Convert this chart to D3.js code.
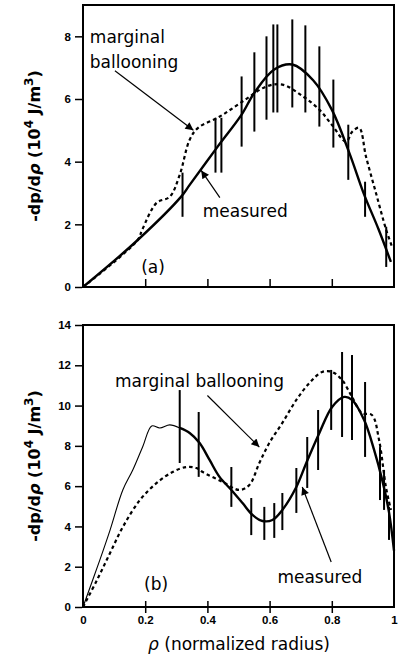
<!DOCTYPE html>
<html>
<head>
<meta charset="utf-8">
<script src="https://cdn.jsdelivr.net/npm/d3@7"></script>
<style>
  html, body { margin: 0; padding: 0; background: #fff; }
  svg { display: block; }
  .tick text { font-family: "Liberation Sans", Arial, sans-serif; font-weight: bold; font-size: 11.5px; fill: #000; }
  .tick line { stroke: #000; stroke-width: 1.5px; }
  .ann { font-family: "DejaVu Sans", sans-serif; font-size: 17px; fill: #000; }
  .ytitle { font-family: "DejaVu Sans", sans-serif; font-size: 16px; fill: #000; font-weight: bold; }
  .xtitle { font-family: "DejaVu Sans", sans-serif; font-size: 17px; fill: #000; }
</style>
</head>
<body>
<svg id="chart" width="398" height="658"></svg>
<script>
// ---- panel (a): pressure gradient profiles ----
const rhoMeasuredA = [0, 0.176, 0.317, 0.343, 0.433, 0.51, 0.551, 0.615, 0.673, 0.74, 0.80, 0.856, 0.904, 0.95, 0.99];
const valMeasuredA = [0, 1.5, 2.9, 3.26, 4.48, 5.5, 6.2, 6.94, 7.1, 6.6, 5.66, 4.29, 2.95, 1.85, 0.8];

const rhoBallooningA = [0, 0.176, 0.19, 0.237, 0.279, 0.311, 0.343, 0.37, 0.44, 0.51, 0.59, 0.641, 0.705, 0.76, 0.80, 0.846, 0.866, 0.888, 0.91, 0.942, 0.975, 0.994];
const valBallooningA = [0, 1.5, 1.82, 2.69, 2.88, 3.58, 4.7, 5.08, 5.44, 5.9, 6.4, 6.46, 6.1, 5.66, 5.18, 4.64, 4.96, 5.08, 4.16, 3.0, 1.82, 1.28];

// error bars: radius, lower, upper
const errRhoA  = [0.32, 0.426, 0.445, 0.51, 0.551, 0.59, 0.612, 0.625, 0.673, 0.715, 0.76, 0.805, 0.853, 0.907, 0.975];
const errLowA  = [2.24, 3.65, 3.65, 4.48, 4.96, 5.34, 5.57, 5.57, 5.73, 5.57, 5.12, 4.45, 3.42, 2.24, 0.64];
const errHighA = [3.65, 5.4, 5.4, 6.72, 7.49, 8.0, 8.38, 8.38, 8.54, 8.35, 7.68, 6.62, 5.18, 3.36, 1.92];

// ---- panel (b) ----
const rhoMeasuredB = [0, 0.054, 0.087, 0.128, 0.16, 0.192, 0.221, 0.247, 0.279, 0.311, 0.343, 0.375, 0.407, 0.439, 0.477, 0.513, 0.545, 0.577, 0.609, 0.641, 0.686, 0.718, 0.76, 0.801, 0.84, 0.865, 0.904, 0.936, 0.962, 0.984, 1.0];
const valMeasuredB = [0, 2.33, 3.82, 5.81, 6.8, 7.96, 8.99, 8.89, 9.04, 8.89, 8.64, 8.14, 7.3, 6.46, 5.81, 5.16, 4.57, 4.27, 4.32, 4.82, 5.96, 7.15, 8.64, 9.93, 10.43, 10.28, 9.28, 7.8, 6.31, 4.7, 2.8];
const thinUpToRhoB = 0.311; // inner part of the measured profile drawn with a thin line

const rhoBallooningB = [0, 0.045, 0.087, 0.128, 0.183, 0.237, 0.288, 0.333, 0.365, 0.385, 0.449, 0.503, 0.535, 0.567, 0.599, 0.641, 0.686, 0.728, 0.769, 0.801, 0.833, 0.865, 0.897, 0.929, 0.952, 0.974, 0.99];
const valBallooningB = [0, 1.34, 2.68, 3.97, 5.31, 6.16, 6.7, 6.95, 6.9, 6.7, 6.21, 5.81, 6.06, 7.15, 8.14, 9.14, 10.28, 11.12, 11.67, 11.67, 11.27, 10.43, 9.63, 9.53, 8.29, 5.96, 4.82];

const errRhoB  = [0.311, 0.372, 0.477, 0.541, 0.583, 0.615, 0.641, 0.686, 0.721, 0.756, 0.798, 0.833, 0.865, 0.907, 0.955, 0.968, 0.984];
const errLowB  = [7.15, 6.46, 4.97, 3.57, 3.33, 3.43, 3.82, 4.67, 5.91, 6.8, 8.79, 8.44, 8.29, 7.45, 5.31, 4.82, 3.33];
const errHighB = [10.77, 9.68, 6.95, 5.41, 4.97, 5.16, 5.66, 6.9, 8.44, 9.78, 11.77, 12.66, 12.51, 11.17, 7.94, 6.8, 4.97];

// axis ticks
const yTicksA = [0, 2, 4, 6, 8];
const yTicksB = [0, 2, 4, 6, 8, 10, 12, 14];
const xTicks = [0, 0.2, 0.4, 0.6, 0.8, 1];
const xTickLabels = ["0", "0.2", "0.4", "0.6", "0.8", "1"];

const svg = d3.select("#chart");

const x = d3.scaleLinear().domain([0, 1]).range([83, 394]);
const yA = d3.scaleLinear().domain([0, 9]).range([287, 5]);
const yB = d3.scaleLinear().domain([0, 14]).range([607, 325]);

// arrowhead marker
svg.append("defs").append("marker")
  .attr("id", "head")
  .attr("viewBox", "0 0 10 10")
  .attr("refX", 10).attr("refY", 5)
  .attr("markerWidth", 11).attr("markerHeight", 8)
  .attr("markerUnits", "userSpaceOnUse")
  .attr("orient", "auto")
  .append("path").attr("d", "M0,0 L10,5 L0,10 Z").attr("fill", "#000");

function zip(r, v) { return r.map((d, i) => ({ r: d, v: v[i] })); }

function panel(y, opts) {
  const g = svg.append("g");
  const line = d3.line().x(d => x(d.r)).y(d => y(d.v)).curve(d3.curveCatmullRom.alpha(0.5));

  // y axis
  g.append("g").attr("transform", `translate(${x(0) - 1},0)`)
    .call(d3.axisLeft(y).tickValues(opts.yTicks).tickSize(7).tickPadding(4).tickFormat(d3.format("d")))
    .call(a => a.select(".domain").remove());

  // x axis
  const xa = g.append("g").attr("transform", `translate(0,${y(0)})`);
  if (opts.xLabels) {
    xa.call(d3.axisBottom(x).tickValues(xTicks).tickSize(6).tickPadding(3).tickFormat((d, i) => xTickLabels[i]))
      .call(a => a.select(".domain").remove());
    xa.selectAll(".tick").append("line").attr("y1", 0).attr("y2", -6).attr("stroke", "#000").attr("stroke-width", 1.5);
    xa.selectAll(".tick").filter(d => d === 0 || d === 1).selectAll("line").remove();
  } else {
    xa.call(d3.axisBottom(x).tickValues(xTicks.slice(1, -1)).tickSize(-8).tickFormat(""))
      .call(a => a.select(".domain").remove());
  }

  // frame
  g.append("rect")
    .attr("x", x(0)).attr("y", y.range()[1])
    .attr("width", x(1) - x(0)).attr("height", y.range()[0] - y.range()[1])
    .attr("fill", "none").attr("stroke", "#000").attr("stroke-width", 2);

  // error bars
  g.append("g").selectAll("line")
    .data(opts.err)
    .join("line")
    .attr("x1", d => x(d.r)).attr("x2", d => x(d.r))
    .attr("y1", d => y(d.lo)).attr("y2", d => y(d.hi))
    .attr("stroke", "#000").attr("stroke-width", 2);

  // marginal ballooning profile
  g.append("path").datum(opts.ballooning)
    .attr("d", line).attr("fill", "none")
    .attr("stroke", "#000").attr("stroke-width", 2.2).attr("stroke-dasharray", "3.5,3");

  // measured profile
  if (opts.thinTo != null) {
    g.append("path").datum(opts.measured.filter(d => d.r <= opts.thinTo))
      .attr("d", line).attr("fill", "none").attr("stroke", "#000").attr("stroke-width", 1.1);
    g.append("path").datum(opts.measured.filter(d => d.r >= opts.thinTo))
      .attr("d", line).attr("fill", "none").attr("stroke", "#000").attr("stroke-width", 2.4);
  } else {
    g.append("path").datum(opts.measured)
      .attr("d", line).attr("fill", "none").attr("stroke", "#000").attr("stroke-width", 2.4);
  }

  // annotations
  opts.texts.forEach(t => {
    g.append("text").attr("class", "ann")
      .attr("x", x(t.r)).attr("y", y(t.v))
      .attr("text-anchor", t.anchor || "start")
      .text(t.s);
  });
  opts.arrows.forEach(a => {
    g.append("line")
      .attr("x1", x(a.from[0])).attr("y1", y(a.from[1]))
      .attr("x2", x(a.to[0])).attr("y2", y(a.to[1]))
      .attr("stroke", "#000").attr("stroke-width", 1.2)
      .attr("marker-end", "url(#head)");
  });

  // y title
  const cy = (y.range()[0] + y.range()[1]) / 2 + opts.titleShift;
  const t = g.append("text").attr("class", "ytitle")
    .attr("transform", `translate(40,${cy}) rotate(-90)`)
    .attr("text-anchor", "middle");
  t.append("tspan").text("-dp/d");
  t.append("tspan").attr("font-style", "italic").text("\u03c1");
  t.append("tspan").text(" (10");
  t.append("tspan").attr("dy", -7).attr("font-size", 12).text("4");
  t.append("tspan").attr("dy", 7).text(" J/m");
  t.append("tspan").attr("dy", -7).attr("font-size", 12).text("3");
  t.append("tspan").attr("dy", 7).text(")");
}

const errA = errRhoA.map((r, i) => ({ r, lo: errLowA[i], hi: errHighA[i] }));
const errB = errRhoB.map((r, i) => ({ r, lo: errLowB[i], hi: errHighB[i] }));

panel(yA, {
  yTicks: yTicksA, xLabels: false,
  measured: zip(rhoMeasuredA, valMeasuredA),
  ballooning: zip(rhoBallooningA, valBallooningA),
  err: errA,
  titleShift: 0,
  texts: [
    { r: 0.022, v: 7.8, s: "marginal" },
    { r: 0.022, v: 6.98, s: "ballooning" },
    { r: 0.385, v: 2.24, s: "measured" },
    { r: 0.225, v: 0.45, s: "(a)", anchor: "middle" }
  ],
  arrows: [
    { from: [0.1026, 6.9], to: [0.355, 5.0] },
    { from: [0.44, 2.85], to: [0.38, 3.72] }
  ]
});

panel(yB, {
  yTicks: yTicksB, xLabels: true,
  measured: zip(rhoMeasuredB, valMeasuredB),
  ballooning: zip(rhoBallooningB, valBallooningB),
  err: errB,
  thinTo: thinUpToRhoB,
  titleShift: 0,
  texts: [
    { r: 0.1026, v: 10.92, s: "marginal ballooning" },
    { r: 0.625, v: 1.19, s: "measured" },
    { r: 0.235, v: 0.85, s: "(b)", anchor: "middle" }
  ],
  arrows: [
    { from: [0.40, 10.5], to: [0.567, 7.94] },
    { from: [0.798, 2.23], to: [0.705, 5.96] }
  ]
});

// x title
const xt = svg.append("text").attr("class", "xtitle")
  .attr("x", 239).attr("y", 650).attr("text-anchor", "middle");
xt.append("tspan").attr("font-style", "italic").text("\u03c1");
xt.append("tspan").text(" (normalized radius)");
</script>
</body>
</html>
